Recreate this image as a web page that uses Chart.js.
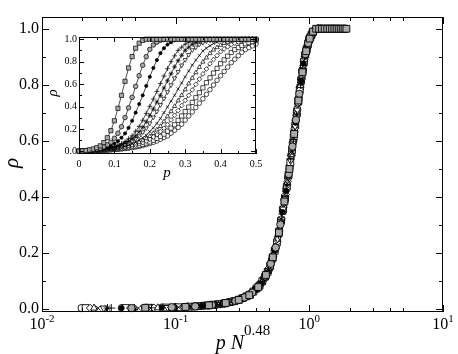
<!DOCTYPE html>
<html>
<head>
<meta charset="utf-8">
<script src="https://cdn.jsdelivr.net/npm/chart.js@4.4.0/dist/chart.umd.min.js"></script>
<style>
  html, body { margin: 0; padding: 0; background: #fff; }
  #wrap { position: relative; width: 458px; height: 354px; }
  #main { position: absolute; left: 0; top: 0; }
  #inset { position: absolute; left: 40px; top: 28px; }
</style>
</head>
<body>
<div id="wrap">
  <canvas id="main" width="458" height="354"></canvas>
  <canvas id="inset" width="224" height="162"></canvas>
</div>
<script>
// occupation probability p (inset x values)
const pValues = [0, 0.01, 0.02, 0.03, 0.04, 0.05, 0.06, 0.07, 0.08, 0.09,
  0.10, 0.11, 0.12, 0.13, 0.14, 0.15, 0.16, 0.17, 0.18, 0.19,
  0.20, 0.21, 0.22, 0.23, 0.24, 0.25, 0.26, 0.27, 0.28, 0.29,
  0.30, 0.31, 0.32, 0.33, 0.34, 0.35, 0.36, 0.37, 0.38, 0.39,
  0.40, 0.41, 0.42, 0.43, 0.44, 0.45, 0.46, 0.47, 0.48, 0.49, 0.50];

// rho(p) for each system size, largest N first
const rhoA = [.003,.005,.008,.014,.022,.033,.05,.079,.122,.185,.273,.384,.5,.625,.744,.845,.92,.965,.99,1,
  1,1,1,1,1,1,1,1,1,1,1,1,1,1,1,1,1,1,1,1,1,1,1,1,1,1,1,1,1,1,1];
const rhoB = [.003,.004,.007,.01,.015,.021,.029,.042,.059,.082,.117,.162,.22,.302,.389,.482,.58,.675,.768,.845,
  .91,.949,.974,.991,.998,1,1,1,1,1,1,1,1,1,1,1,1,1,1,1,1,1,1,1,1,1,1,1,1,1,1];
const rhoC = [.003,.004,.006,.008,.012,.016,.022,.029,.039,.05,.07,.091,.122,.16,.21,.273,.346,.422,.5,.584,
  .665,.744,.814,.876,.92,.953,.973,.99,.996,1,1,1,1,1,1,1,1,1,1,1,1,1,1,1,1,1,1,1,1,1,1];
const rhoD = [.003,.004,.005,.007,.009,.013,.016,.021,.027,.034,.043,.054,.07,.088,.113,.139,.18,.222,.278,.339,
  .402,.468,.535,.605,.672,.738,.80,.852,.901,.929,.957,.973,.986,.993,.998,1,1,1,1,1,1,1,1,1,1,1,1,1,1,1,1];
const rhoE = [.003,.004,.005,.006,.009,.011,.015,.018,.024,.029,.037,.046,.058,.073,.09,.114,.138,.175,.215,.264,
  .321,.378,.44,.5,.565,.63,.692,.754,.809,.857,.902,.929,.955,.97,.983,.992,.997,1,1,1,1,1,1,1,1,1,1,1,1,1,1];
const rhoF = [.003,.004,.005,.006,.008,.01,.014,.017,.021,.026,.032,.04,.048,.061,.075,.092,.114,.137,.172,.208,
  .251,.304,.357,.415,.472,.53,.592,.653,.71,.768,.816,.862,.904,.928,.953,.969,.981,.99,.995,1,1,1,1,1,1,1,1,1,1,1,1];
const rhoG = [.003,.004,.004,.005,.007,.009,.012,.015,.018,.022,.026,.031,.039,.046,.057,.07,.083,.102,.122,.144,
  .177,.21,.25,.293,.346,.396,.448,.5,.556,.611,.665,.717,.769,.814,.855,.896,.92,.942,.962,.973,.984,.992,.996,1,1,1,1,1,1,1,1];
const rhoH = [.003,.004,.004,.005,.007,.009,.011,.013,.016,.019,.023,.028,.033,.04,.047,.056,.068,.08,.097,.115,
  .135,.162,.193,.224,.266,.311,.356,.403,.452,.5,.551,.604,.654,.703,.751,.798,.835,.874,.906,.927,.947,.964,.974,.985,.992,.995,.999,1,1,1,1];
const rhoI = [.003,.004,.004,.005,.006,.008,.01,.012,.015,.017,.021,.025,.028,.034,.04,.047,.056,.067,.078,.092,
  .11,.128,.149,.178,.207,.238,.281,.322,.364,.409,.455,.5,.548,.598,.645,.691,.735,.781,.819,.854,.889,.914,.933,.952,.966,.976,.985,.992,.995,.998,1];
const rhoJ = [.003,.004,.004,.005,.006,.007,.009,.011,.013,.016,.018,.021,.025,.029,.034,.04,.046,.052,.063,.074,
  .084,.1,.116,.133,.154,.181,.208,.238,.277,.316,.355,.395,.437,.479,.523,.567,.613,.656,.698,.74,.782,.816,.849,.882,.908,.926,.944,.961,.97,.979,.988];
const rhoK = [.003,.004,.004,.005,.006,.007,.008,.01,.012,.014,.016,.019,.022,.026,.029,.034,.039,.045,.051,.061,
  .071,.081,.093,.108,.124,.139,.163,.189,.214,.243,.279,.316,.352,.391,.43,.469,.509,.55,.592,.634,.674,.713,.752,.791,.822,.853,.884,.908,.925,.941,.958];
const rhoCurves = [rhoA, rhoB, rhoC, rhoD, rhoE, rhoF, rhoG, rhoH, rhoI, rhoJ, rhoK];

// N^0.48 for each curve (collapse factor on the main x axis)
const sizeFactor = [5.92, 4.67, 3.94, 3.30, 3.09, 2.90, 2.63, 2.45, 2.29, 2.12, 1.98];
const collapsedMax = 1.9;

// axis ticks
const mainXTicks = [0.01, 0.1, 1, 10];
const mainXExp = ['-2', '-1', '0', '1'];
const mainXMinor = [0.02, 0.03, 0.04, 0.05, 0.2, 0.3, 0.4, 0.5, 2, 3, 4, 5];
const mainYTicks = [0, 0.2, 0.4, 0.6, 0.8, 1.0];
const mainYMinor = [0.1, 0.3, 0.5, 0.7, 0.9];
const insetXTicks = [0, 0.1, 0.2, 0.3, 0.4, 0.5];
const insetXLabels = ['0', '0.1', '0.2', '0.3', '0.4', '0.5'];
const insetXMinor = [0.05, 0.15, 0.25, 0.35, 0.45];
const insetYTicks = [0, 0.2, 0.4, 0.6, 0.8, 1.0];
const insetYMinor = [0.1, 0.3, 0.5, 0.7, 0.9];

const SERIF = '"Liberation Serif", "Times New Roman", serif';
const GRAY = '#a9a9a9';

// marker for each curve
const markers = [
  { style: 'rect', fill: GRAY, r: 4.8 },
  { style: 'circle', fill: GRAY, r: 3.7 },
  { style: 'circle', fill: '#000', r: 2.6 },
  { style: 'cross', fill: '#fff', r: 4 },
  { style: 'star', fill: '#fff', r: 4 },
  { style: 'triangle', fill: '#fff', r: 4, rot: 180 },
  { style: 'crossRot', fill: '#fff', r: 3.6 },
  { style: 'triangle', fill: '#fff', r: 4 },
  { style: 'rectRot', fill: '#fff', r: 3.8 },
  { style: 'rect', fill: '#fff', r: 4.8 },
  { style: 'circle', fill: '#fff', r: 3.7 }
];

function drawParts(ctx, parts, cx, baseline) {
  let total = 0;
  parts.forEach(p => { ctx.font = p[1]; total += ctx.measureText(p[0]).width; });
  let x = cx - total / 2;
  ctx.textAlign = 'left';
  ctx.textBaseline = 'alphabetic';
  parts.forEach(p => {
    ctx.font = p[1];
    ctx.fillText(p[0], x, baseline + p[2]);
    x += ctx.measureText(p[0]).width;
  });
}

function makeFrame(cfg) {
  return {
    id: 'frame',
    afterDatasetsDraw(chart) {
      const { ctx, chartArea: a } = chart;
      const xs = chart.scales.x, ys = chart.scales.y;
      const px = v => Math.round(xs.getPixelForValue(v)) + 0.5;
      const py = v => Math.round(ys.getPixelForValue(v)) + 0.5;
      ctx.save();
      ctx.strokeStyle = '#000';
      ctx.lineWidth = 1;
      ctx.beginPath();
      [[cfg.xMajor, cfg.major], [cfg.xMinor, cfg.minor]].forEach(([vals, len]) => vals.forEach(v => {
        const p = px(v);
        ctx.moveTo(p, a.bottom); ctx.lineTo(p, a.bottom - len);
        ctx.moveTo(p, a.top); ctx.lineTo(p, a.top + len);
      }));
      [[cfg.yMajor, cfg.major], [cfg.yMinor, cfg.minor]].forEach(([vals, len]) => vals.forEach(v => {
        const p = py(v);
        ctx.moveTo(a.left, p); ctx.lineTo(a.left + len, p);
        ctx.moveTo(a.right, p); ctx.lineTo(a.right - len, p);
      }));
      ctx.stroke();
      ctx.strokeRect(a.left + 0.5, a.top + 0.5, a.right - a.left - 1, a.bottom - a.top - 1);

      ctx.fillStyle = '#000';
      ctx.font = cfg.tickFont;
      ctx.textAlign = 'right';
      ctx.textBaseline = 'middle';
      cfg.yMajor.forEach(v => ctx.fillText(v.toFixed(1), a.left - cfg.yGap, ys.getPixelForValue(v)));
      cfg.xMajor.forEach((v, i) => drawParts(ctx, cfg.xParts[i], xs.getPixelForValue(v), a.bottom + cfg.xDrop));

      drawParts(ctx, cfg.xTitle, cfg.xTitleAt[0], cfg.xTitleAt[1]);
      ctx.translate(cfg.yTitleAt[0], cfg.yTitleAt[1]);
      ctx.rotate(-Math.PI / 2);
      ctx.font = cfg.yTitleFont;
      ctx.textAlign = 'center';
      ctx.textBaseline = 'middle';
      ctx.fillText('\u03C1', 0, 0);
      ctx.restore();
    }
  };
}

const mainSets = rhoCurves.map((rho, i) => ({
  data: pValues.map((p, j) => ({ x: p * sizeFactor[i], y: rho[j] }))
    .filter(pt => pt.x > 0 && pt.x <= collapsedMax),
  showLine: false,
  pointStyle: markers[i].style,
  pointRotation: markers[i].rot || 0,
  pointRadius: markers[i].r,
  pointBackgroundColor: markers[i].fill,
  pointBorderColor: '#000',
  pointBorderWidth: 0.9,
  clip: false
}));

const insetSets = rhoCurves.map((rho, i) => ({
  data: pValues.map((p, j) => ({ x: p, y: rho[j] })),
  showLine: true,
  borderColor: '#000',
  borderWidth: 0.7,
  pointStyle: markers[i].style,
  pointRotation: markers[i].rot || 0,
  pointRadius: markers[i].r * 0.62,
  pointBackgroundColor: markers[i].fill,
  pointBorderColor: '#000',
  pointBorderWidth: 0.7,
  clip: false
}));

const baseOptions = {
  responsive: false,
  animation: false,
  devicePixelRatio: 1,
  events: [],
  plugins: { legend: { display: false }, tooltip: { enabled: false } }
};

new Chart(document.getElementById('main'), {
  type: 'scatter',
  data: { datasets: mainSets },
  options: Object.assign({}, baseOptions, {
    layout: { padding: { left: 42, top: 17, right: 15, bottom: 42 } },
    scales: {
      x: { type: 'logarithmic', min: 0.01, max: 10, display: false },
      y: { type: 'linear', min: -0.01, max: 1.042, display: false }
    }
  }),
  plugins: [makeFrame({
    major: 7, minor: 4,
    xMajor: mainXTicks, xMinor: mainXMinor, yMajor: mainYTicks, yMinor: mainYMinor,
    tickFont: '16px ' + SERIF, yGap: 3, xDrop: 17,
    xParts: mainXExp.map(e => [['10', '16px ' + SERIF, 0], [e, '11px ' + SERIF, -7]]),
    xTitle: [['p N', 'italic 20px ' + SERIF, 0], ['0.48', '15px ' + SERIF, -14]],
    xTitleAt: [243, 349],
    yTitleAt: [12, 163], yTitleFont: 'italic 21px ' + SERIF
  })]
});

new Chart(document.getElementById('inset'), {
  type: 'scatter',
  data: { datasets: insetSets },
  options: Object.assign({}, baseOptions, {
    layout: { padding: { left: 39, top: 9, right: 8, bottom: 36 } },
    scales: {
      x: { type: 'linear', min: 0, max: 0.5, display: false },
      y: { type: 'linear', min: -0.023, max: 1.02, display: false }
    }
  }),
  plugins: [makeFrame({
    major: 5, minor: 3,
    xMajor: insetXTicks, xMinor: insetXMinor, yMajor: insetYTicks, yMinor: insetYMinor,
    tickFont: '10px ' + SERIF, yGap: 2, xDrop: 13,
    xParts: insetXLabels.map(t => [[t, '10px ' + SERIF, 0]]),
    xTitle: [['p', 'italic 15px ' + SERIF, 0]],
    xTitleAt: [127, 149],
    yTitleAt: [13, 65], yTitleFont: 'italic 15px ' + SERIF
  })]
});
</script>
</body>
</html>
